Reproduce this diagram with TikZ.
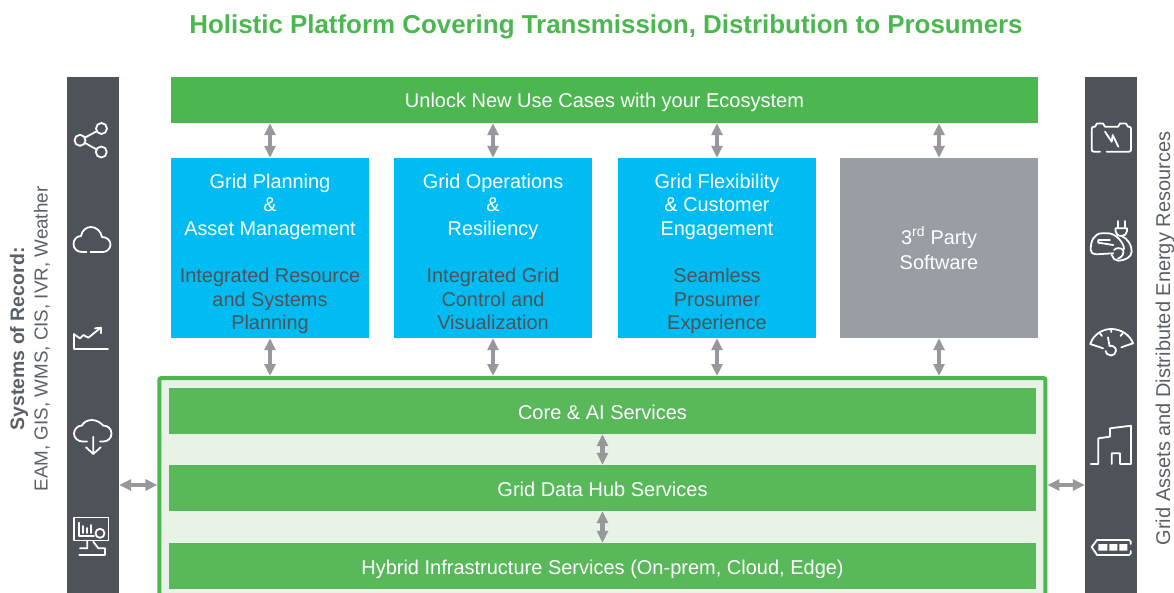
\documentclass[tikz,border=0pt]{standalone}
\usepackage{fontspec}
\setmainfont{Liberation Sans}
\usetikzlibrary{arrows.meta}
\definecolor{titlegreen}{HTML}{4CB751}
\definecolor{bargreen}{HTML}{58B85A}
\definecolor{palegreen}{HTML}{E8F2E6}
\definecolor{skyblue}{HTML}{00BCF2}
\definecolor{slate}{HTML}{4D5359}
\definecolor{midgray}{HTML}{989EA3}
\definecolor{arrowgray}{HTML}{97989B}
\definecolor{labelgray}{HTML}{5A6066}
\tikzset{
  bar/.style={fill=bargreen, text=white, minimum height=46pt, text height=16pt, text depth=0pt, font=\fontsize{20}{23}\selectfont},
  block/.style={fill=skyblue, minimum width=198pt, minimum height=180pt, inner ysep=0pt, align=center, text=white, font=\fontsize{19.9}{23.6}\selectfont},
  rail/.style={fill=slate, minimum width=52pt, minimum height=516pt},
  link/.style={draw=arrowgray, line width=4.5pt, {Triangle[length=12pt,width=11pt]}-{Triangle[length=12pt,width=11pt]}},
  icon/.style={draw=white, line width=1.8pt, line cap=round, line join=round},
  sidetext/.style={rotate=90, text=labelgray, font=\fontsize{18.8}{23}\selectfont}
}
\newcommand{\headtext}[1]{\rule{0pt}{29pt}#1}
\newcommand{\lowertext}[1]{\textcolor{slate}{\strut#1}}
\begin{document}
\begin{tikzpicture}[x=1pt, y=-1pt]
  \useasboundingbox (0,0) rectangle (1174,593);
  \clip (0,0) rectangle (1174,593);

  \node[text=titlegreen, font=\bfseries\fontsize{25.9}{30}\selectfont] (title) at (606,26.5) {Holistic Platform Covering Transmission, Distribution to Prosumers};

  \node[rail] (left) at (93,335) {};
  \node[rail] (right) at (1111,335) {};

  \node[bar, fill=titlegreen, minimum width=867pt] (unlock) at (604.5,100) {Unlock New Use Cases with your Ecosystem};

  \node[block] (planning) at (270,248) {\headtext{Grid Planning}\\\strut\&\\\strut Asset Management\\\strut\\\lowertext{Integrated Resource}\\\lowertext{and Systems}\\\lowertext{Planning}};
  \node[block] (operations) at (493,248) {\headtext{Grid Operations}\\\strut\&\\\strut Resiliency\\\strut\\\lowertext{Integrated Grid}\\\lowertext{Control and}\\\lowertext{Visualization}};
  \node[block] (flexibility) at (717,248) {\headtext{Grid Flexibility}\\\strut\& Customer\\\strut Engagement\\\strut\\\lowertext{Seamless}\\\lowertext{Prosumer}\\\lowertext{Experience}};
  \node[block, fill=midgray] (party) at (939,248) {\rule{0pt}{17pt}3\textsuperscript{rd} Party\\[1.5pt]Software};

  \node[draw=titlegreen, line width=4pt, fill=palegreen, rounded corners=2pt, minimum width=886pt, minimum height=240pt] (frame) at (602.4,498) {};

  \node[bar, minimum width=867pt] (core) at (602.5,411) {Core \& AI Services};
  \node[bar, minimum width=867pt] (hub) at (602.5,488) {Grid Data Hub Services};
  \node[bar, minimum width=867pt] (hybrid) at (602.5,566) {Hybrid Infrastructure Services (On-prem, Cloud, Edge)};

  \draw[link] (unlock.south -| planning.north) -- (planning.north);
  \draw[link] (unlock.south -| operations.north) -- (operations.north);
  \draw[link] (unlock.south -| flexibility.north) -- (flexibility.north);
  \draw[link] (unlock.south -| party.north) -- (party.north);
  \draw[link] (planning.south) -- (planning.south |- frame.north);
  \draw[link] (operations.south) -- (operations.south |- frame.north);
  \draw[link] (flexibility.south) -- (flexibility.south |- frame.north);
  \draw[link] (party.south) -- (party.south |- frame.north);
  \draw[link] (core.south -| hub.north) -- (hub.north);
  \draw[link] (hub.south) -- (hub.south |- hybrid.north);
  \coordinate (leftlink) at (left.east |- 0,485);
  \coordinate (rightlink) at (right.west |- 0,485);
  \draw[link] (leftlink) -- (leftlink -| frame.west);
  \draw[link] (leftlink -| frame.east) -- (rightlink);

  \node[sidetext, font=\bfseries\fontsize{19.5}{23}\selectfont] (record) at (19,339) {Systems of Record:};
  \node[sidetext] (sources) at (42,339) {EAM, GIS, WMS, CIS, IVR, Weather};
  \node[sidetext, font=\fontsize{20}{23}\selectfont] (assets) at (1165,338.5) {Grid Assets and Distributed Energy Resources};

  % left icons
  \draw[icon] (101.5,128.5) circle (5.5) (80,140.3) circle (5.5) (101.3,152) circle (5.5);
  \draw[icon] (96.8,131.2) -- (85,137.6) (85,143) -- (96.4,149.3);
  \draw[icon] (86.5,252) -- (82,252) .. controls (77,252) and (73.5,248.5) .. (73.5,244) .. controls (73.5,239.5) and (77,236) .. (81,236) .. controls (82,230.5) and (86,227) .. (91,227) .. controls (96.5,227) and (101,231.5) .. (102,237) .. controls (107,237) and (110.5,240.5) .. (110.5,244.5) .. controls (110.5,248.5) and (107,252) .. (103,252) -- (90.5,252);
  \draw[icon] (74,334) -- (74,349) -- (108,349);
  \draw[icon] (74,334.3) -- (80,338.3) -- (83.3,335) -- (88.3,337.7) -- (100.5,328);
  \draw[icon] (95,328.3) -- (101,327.7) -- (101,333.3);
  \draw[icon] (87,441.5) -- (82.5,441.5) .. controls (78,441.5) and (74,438) .. (74,433.5) .. controls (74,429) and (78,425.5) .. (82,425.5) .. controls (83.5,422.5) and (87,420) .. (92,420) .. controls (97.5,420) and (102,424) .. (103,425.5) .. controls (108,425.5) and (111.5,429) .. (111.5,433.5) .. controls (111.5,438) and (108,441.5) .. (103.5,441.5) -- (100,441.5);
  \draw[icon] (93.3,436.7) -- (93.3,454) (86,447.3) -- (93.3,454) -- (100.7,447.3);
  \draw[icon] (73.7,517.5) rectangle (108.5,540.5);
  \draw[icon] (79.3,522.7) -- (79.3,536) -- (94,536);
  \draw[icon] (83.3,533) -- (83.3,526) (87.3,533) -- (87.3,528) (91.3,533) -- (91.3,525);
  \draw[icon] (100,533.3) circle (4.5);
  \draw[icon] (87.3,541) -- (87.3,548.3) -- (80,548.3) (93.3,541.7) -- (98.3,548.3) -- (105,548.3) -- (105,555) -- (79.3,555);

  % right icons
  \draw[icon] (1100,151.7) -- (1094,151.7) .. controls (1092.5,151.7) and (1091.7,151) .. (1091.7,149.5) -- (1091.7,129) .. controls (1091.7,127.5) and (1092.5,126.7) .. (1094,126.7) -- (1095,126.7) -- (1097,123.5) -- (1103,123.5) -- (1105,126.7) -- (1118,126.7) -- (1120,123.5) -- (1126,123.5) -- (1128,126.7) -- (1129,126.7) .. controls (1130.3,126.7) and (1131,127.5) .. (1131,129) -- (1131,149.5) .. controls (1131,151) and (1130.3,151.7) .. (1129,151.7) -- (1106.7,151.7);
  \draw[icon] (1105,131.7) -- (1111.7,141.7) -- (1112.7,135) -- (1118.3,146.7);
  \draw[icon] (1113.3,253.3) -- (1096.7,254.3) .. controls (1092.5,254) and (1090.7,252.5) .. (1090.7,250) .. controls (1090.7,245) and (1091.5,241) .. (1093.3,238.3) .. controls (1095,235.5) and (1098,233.3) .. (1101.7,233.3) -- (1108,233.3) .. controls (1116,233.3) and (1124,243) .. (1124,249);
  \draw[icon] (1110,240) -- (1098.3,240) -- (1098.3,242.7) -- (1113.3,245);
  \draw[icon] (1114,250) .. controls (1116,247.5) and (1121,247.5) .. (1123,250) .. controls (1124.5,252.5) and (1122,258) .. (1118,258.5);
  \draw[icon] (1121.7,236) .. controls (1128,239) and (1131.7,245) .. (1131.7,251.5) .. controls (1131.7,257) and (1125,260.7) .. (1118,260.7) .. controls (1115,260.7) and (1112.5,258) .. (1111.7,255);
  \draw[icon] (1115.5,228.3) -- (1127,228.3) -- (1127,231) .. controls (1127,234) and (1124.5,236) .. (1121.7,236) .. controls (1118,236) and (1115.5,234) .. (1115.5,231) -- cycle;
  \draw[icon] (1117.7,228) -- (1117.7,221) (1125,228) -- (1125,221);
  \draw[icon] (1103,348.3) -- (1090.3,344) .. controls (1093,335) and (1102,329) .. (1111.3,329) .. controls (1121,329) and (1130,335) .. (1133,343.3) -- (1121.3,347.3);
  \draw[icon] (1100,333.5) -- (1102,336) (1111.3,330) -- (1111.3,332) (1122.5,333.5) -- (1120.5,336);
  \draw[icon] (1108,337.3) -- (1109.5,346);
  \draw[icon] (1109.5,346) .. controls (1112,345) and (1116,347) .. (1116,350.5) .. controls (1116,353.5) and (1113.5,355.5) .. (1111,355.5) .. controls (1108,355.5) and (1105.5,353) .. (1105.5,351);
  \draw[icon] (1090.7,464) -- (1098.3,464) -- (1098.3,438.3) -- (1110,436.7) -- (1110,428.3) -- (1131,425.7) -- (1131,464) -- (1120,464) -- (1120,453.3) -- (1111.7,453.3) -- (1111.7,464);
  \draw[icon] (1130.7,544) -- (1130.7,541.5) .. controls (1130.7,540.5) and (1130,540) .. (1129,540) -- (1097,540) -- (1091.7,547) -- (1097,555) -- (1129,555) .. controls (1130,555) and (1130.7,554.5) .. (1130.7,553.5) -- (1130.7,551);
  \fill[white] (1098.3,544) rectangle (1107.3,550.7) (1109.3,544) rectangle (1117.3,550.7) (1119.3,544) rectangle (1127.3,550.7);
\end{tikzpicture}
\end{document}
